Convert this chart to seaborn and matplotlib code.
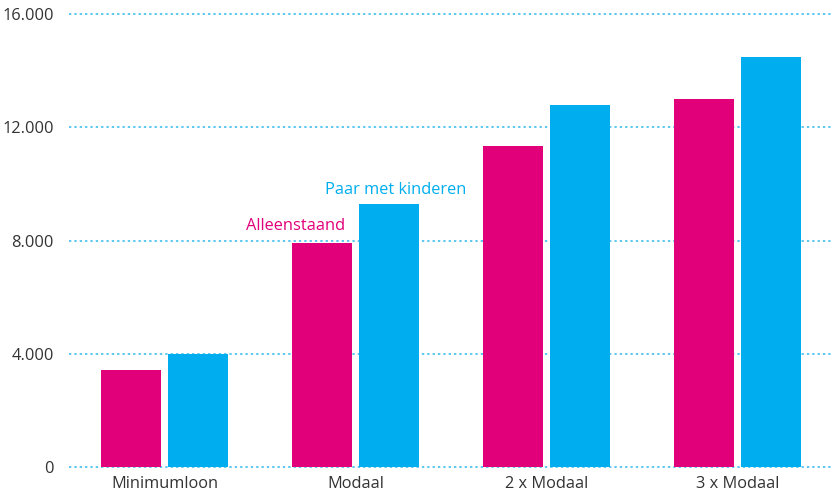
import pandas as pd
import matplotlib.pyplot as plt
import seaborn as sns

categories = ["Minimumloon", "Modaal", "2 x Modaal", "3 x Modaal"]
alleenstaand = [3430, 7930, 11340, 13000]
paar_met_kinderen = [4000, 9290, 12790, 14480]
series_names = ["Alleenstaand", "Paar met kinderen"]
y_ticks = [0, 4000, 8000, 12000, 16000]
y_tick_labels = ["0", "4.000", "8.000", "12.000", "16.000"]

pink = "#E2007A"
blue = "#00AEEF"

df = pd.DataFrame({
    "categorie": categories * 2,
    "waarde": alleenstaand + paar_met_kinderen,
    "type": [series_names[0]] * 4 + [series_names[1]] * 4,
})

sns.set_style("white")
plt.rcParams["font.family"] = ["Open Sans", "DejaVu Sans"]

fig = plt.figure(figsize=(8.33, 4.97), dpi=100)
ax = fig.add_axes([0.0828, 0.0598, 0.9172, 0.912])

sns.barplot(data=df, x="categorie", y="waarde", hue="type",
            palette=[pink, blue], saturation=1, width=0.70, gap=0.104,
            linewidth=0, legend=False, ax=ax, zorder=3)

ax.set_xlim(-0.5, 3.5)
ax.set_ylim(0, 16000)
ax.set_yticks(y_ticks)
ax.set_yticklabels(y_tick_labels)
for y in y_ticks:
    ax.axhline(y, color="#2FB8EC", linestyle=(0, (1.5, 2)), linewidth=1.1,
               zorder=1, clip_on=False)

for s in ax.spines.values():
    s.set_visible(False)
ax.tick_params(axis="both", length=0, labelsize=11.8, colors="#333333")
ax.tick_params(axis="y", pad=11)
ax.tick_params(axis="x", pad=6)
ax.set_xlabel("")
ax.set_ylabel("")

ax.text(0.945, 8520, series_names[0], color=pink, fontsize=11.8,
        ha="right", va="center")
ax.text(1.21, 9790, series_names[1], color=blue, fontsize=11.8,
        ha="center", va="center")

plt.savefig("out.png", dpi=100)
